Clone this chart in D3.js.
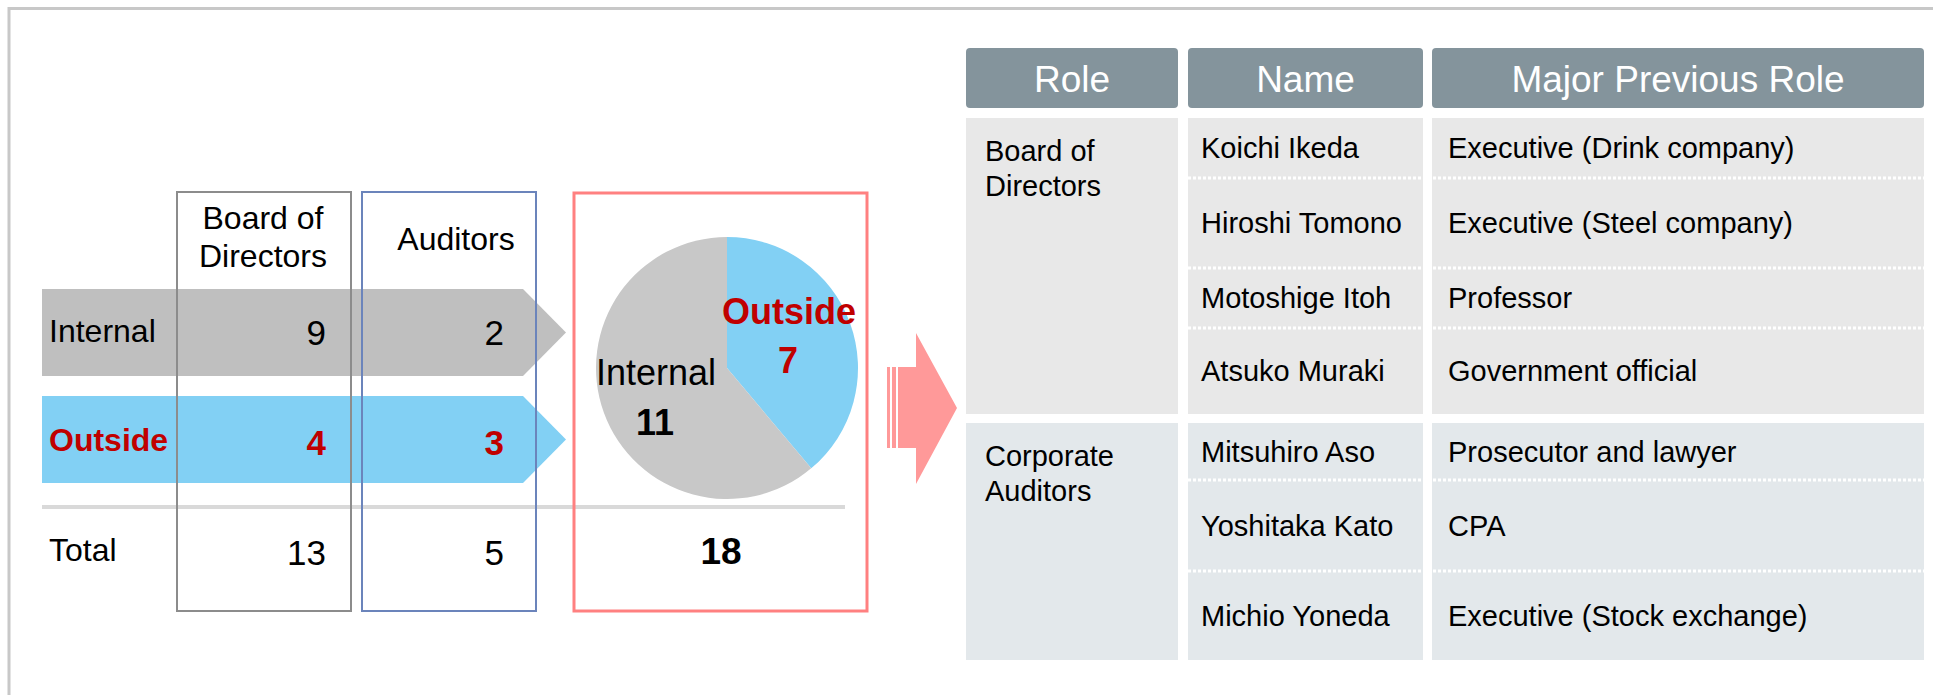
<!DOCTYPE html>
<html>
<head>
<meta charset="utf-8">
<script src="https://cdn.jsdelivr.net/npm/d3@7"></script>
<style>
  html, body { margin: 0; padding: 0; background: #fff; }
  svg { display: block; }
  text { font-family: "Liberation Sans", Arial, sans-serif; }
</style>
</head>
<body>
<svg id="chart" width="1933" height="695"></svg>
<script>
// ---------------- DATA ----------------
const categories = ["Internal", "Outside"];
const groups = ["Board of Directors", "Auditors"];
const groupTitleLines = [["Board of", "Directors"], ["Auditors"]];
const boardValues = [9, 4];      // Internal, Outside
const auditorValues = [2, 3];    // Internal, Outside
const totalLabel = "Total";

const tableHeaders = ["Role", "Name", "Major Previous Role"];
const roleGroups = [["Board of", "Directors"], ["Corporate", "Auditors"]];
const boardNames = ["Koichi Ikeda", "Hiroshi Tomono", "Motoshige Itoh", "Atsuko Muraki"];
const boardPrevious = ["Executive (Drink company)", "Executive (Steel company)", "Professor", "Government official"];
const auditorNames = ["Mitsuhiro Aso", "Yoshitaka Kato", "Michio Yoneda"];
const auditorPrevious = ["Prosecutor and lawyer", "CPA", "Executive (Stock exchange)"];

// ---------------- LAYOUT ----------------
const svg = d3.select("#chart");

const colorInternal = "#bfbfbf";
const colorOutside = "#82d0f4";
const red = "#c00000";

// outer frame (clipped right/bottom)
svg.append("path")
  .attr("d", "M9,695 L9,8.5 L1933,8.5")
  .attr("fill", "none").attr("stroke", "#c8c8c8").attr("stroke-width", 3);

// Left block rows
const rowY = d3.scaleOrdinal().domain(categories).range([289, 396]);
const rowH = 87;
const arrowX0 = 42, arrowX1 = 523, arrowTip = 566;
const rowColor = d3.scaleOrdinal().domain(categories).range([colorInternal, colorOutside]);

svg.append("g").selectAll("path").data(categories).join("path")
  .attr("d", c => {
    const y0 = rowY(c), y1 = y0 + rowH, ym = (y0 + y1) / 2;
    return `M${arrowX0},${y0} L${arrowX1},${y0} L${arrowTip},${ym} L${arrowX1},${y1} L${arrowX0},${y1} Z`;
  })
  .attr("fill", c => rowColor(c));

// separator line
svg.append("rect").attr("x", 42).attr("y", 505).attr("width", 803).attr("height", 4).attr("fill", "#d9d9d9");

// column boxes
const colX = d3.scaleOrdinal().domain(groups).range([177, 362]);
const colW = 174;
const valueRight = d3.scaleOrdinal().domain(groups).range([326, 504]);
const titleShift = d3.scaleOrdinal().domain(groups).range([-1, 7]);
const colStroke = d3.scaleOrdinal().domain(groups).range(["#8c8c8c", "#6b84bb"]);

svg.append("g").selectAll("rect").data(groups).join("rect")
  .attr("x", g => colX(g)).attr("y", 192).attr("width", colW).attr("height", 419)
  .attr("fill", "none").attr("stroke", g => colStroke(g)).attr("stroke-width", 2);

// group titles
groups.forEach((g, i) => {
  const lines = groupTitleLines[i];
  const cx = colX(g) + colW / 2 + titleShift(g);
  const startY = lines.length === 1 ? 250 : 229;
  lines.forEach((ln, j) => {
    svg.append("text").attr("x", cx).attr("y", startY + j * 38)
      .attr("text-anchor", "middle").attr("font-size", 32).attr("fill", "#000").text(ln);
  });
});

// row labels
const labelBase = { Internal: 342, Outside: 451 };
const valueBase = { Internal: 345, Outside: 455 };
categories.forEach(c => {
  const isOut = c === "Outside";
  svg.append("text").attr("x", 49).attr("y", labelBase[c])
    .attr("font-size", 32).attr("font-weight", isOut ? "bold" : "normal")
    .attr("fill", isOut ? red : "#000").text(c);
});

const valueSets = [boardValues, auditorValues];
groups.forEach((g, gi) => {
  categories.forEach((c, ci) => {
    const isOut = c === "Outside";
    svg.append("text").attr("x", valueRight(g)).attr("y", valueBase[c])
      .attr("text-anchor", "end").attr("font-size", 35)
      .attr("font-weight", isOut ? "bold" : "normal")
      .attr("fill", isOut ? red : "#000").text(valueSets[gi][ci]);
  });
  svg.append("text").attr("x", valueRight(g)).attr("y", 565)
    .attr("text-anchor", "end").attr("font-size", 35).attr("fill", "#000")
    .text(d3.sum(valueSets[gi]));
});
svg.append("text").attr("x", 49).attr("y", 561).attr("font-size", 32).attr("fill", "#000").text(totalLabel);

// pie totals
const pieTotals = categories.map((c, ci) => ({ cat: c, value: d3.sum(valueSets, v => v[ci]) }));
const grand = d3.sum(pieTotals, d => d.value);

// pink box
svg.append("rect").attr("x", 574).attr("y", 193).attr("width", 293).attr("height", 418)
  .attr("fill", "none").attr("stroke", "#ff8080").attr("stroke-width", 3);

const pcx = 727, pcy = 368, pr = 131;
const pieOrder = [pieTotals[1], pieTotals[0]]; // Outside first, clockwise from top
const arcs = d3.pie().sort(null).value(d => d.value)(pieOrder);
const arcGen = d3.arc().innerRadius(0).outerRadius(pr);
const pieColor = d3.scaleOrdinal().domain(categories).range(["#c8c8c8", colorOutside]);
svg.append("g").attr("transform", `translate(${pcx},${pcy})`)
  .selectAll("path").data(arcs).join("path")
  .attr("d", arcGen).attr("fill", d => pieColor(d.data.cat));

// pie labels
const pieLabelPos = { Outside: [62, -44, 5], Internal: [-71, 17, 67] };
pieTotals.forEach(d => {
  const isOut = d.cat === "Outside";
  const p = pieLabelPos[d.cat];
  svg.append("text").attr("x", pcx + p[0]).attr("y", pcy + p[1])
    .attr("text-anchor", "middle").attr("font-size", 36)
    .attr("font-weight", isOut ? "bold" : "normal")
    .attr("fill", isOut ? red : "#000").text(d.cat);
  svg.append("text").attr("x", pcx + p[0] - 1).attr("y", pcy + p[2])
    .attr("text-anchor", "middle").attr("font-size", 36).attr("font-weight", "bold")
    .attr("fill", isOut ? red : "#000").text(d.value);
});
svg.append("text").attr("x", 721).attr("y", 564).attr("text-anchor", "middle")
  .attr("font-size", 37).attr("font-weight", "bold").attr("fill", "#000").text(grand);

// pink arrow
const pink = "#ff9999";
const ga = svg.append("g").attr("fill", pink);
ga.append("rect").attr("x", 887).attr("y", 367).attr("width", 3).attr("height", 81);
ga.append("rect").attr("x", 892).attr("y", 367).attr("width", 4).attr("height", 81);
ga.append("path").attr("d", "M898,367 L916,367 L916,333 L957,408 L916,484 L916,448 L898,448 Z");

// ---------------- TABLE ----------------
const tCols = [[966, 1178], [1188, 1423], [1432, 1924]];
svg.append("g").selectAll("rect").data(tableHeaders).join("rect")
  .attr("x", (d, i) => tCols[i][0]).attr("y", 48)
  .attr("width", (d, i) => tCols[i][1] - tCols[i][0]).attr("height", 60)
  .attr("rx", 4).attr("fill", "#84949c");
svg.append("g").selectAll("text").data(tableHeaders).join("text")
  .attr("x", (d, i) => (tCols[i][0] + tCols[i][1]) / 2).attr("y", 92)
  .attr("text-anchor", "middle").attr("font-size", 37).attr("fill", "#fff").text(d => d);

const sections = [
  { role: roleGroups[0], names: boardNames, prev: boardPrevious, top: 118, rows: [60, 90, 60, 86], fill: "#e8e8e8" },
  { role: roleGroups[1], names: auditorNames, prev: auditorPrevious, top: 423, rows: [57, 91, 89], fill: "#e3e8eb" }
];
const TFS = 29;
sections.forEach(s => {
  const total = d3.sum(s.rows);
  tCols.forEach(c => {
    svg.append("rect").attr("x", c[0]).attr("y", s.top).attr("width", c[1] - c[0]).attr("height", total).attr("fill", s.fill);
  });
  s.role.forEach((ln, j) => {
    svg.append("text").attr("x", 985).attr("y", s.top + 43 + j * 35)
      .attr("font-size", TFS).attr("fill", "#000").text(ln);
  });
  let y = s.top;
  s.rows.forEach((h, i) => {
    const cy = y + h / 2 + 10;
    svg.append("text").attr("x", 1201).attr("y", cy).attr("font-size", TFS).attr("fill", "#000").text(s.names[i]);
    svg.append("text").attr("x", 1448).attr("y", cy).attr("font-size", TFS).attr("fill", "#000").text(s.prev[i]);
    y += h;
    if (i < s.rows.length - 1) {
      svg.append("line").attr("x1", 1188).attr("x2", 1924).attr("y1", y).attr("y2", y)
        .attr("stroke", "#fff").attr("stroke-width", 3).attr("stroke-dasharray", "3,2");
    }
  });
});
</script>
</body>
</html>
